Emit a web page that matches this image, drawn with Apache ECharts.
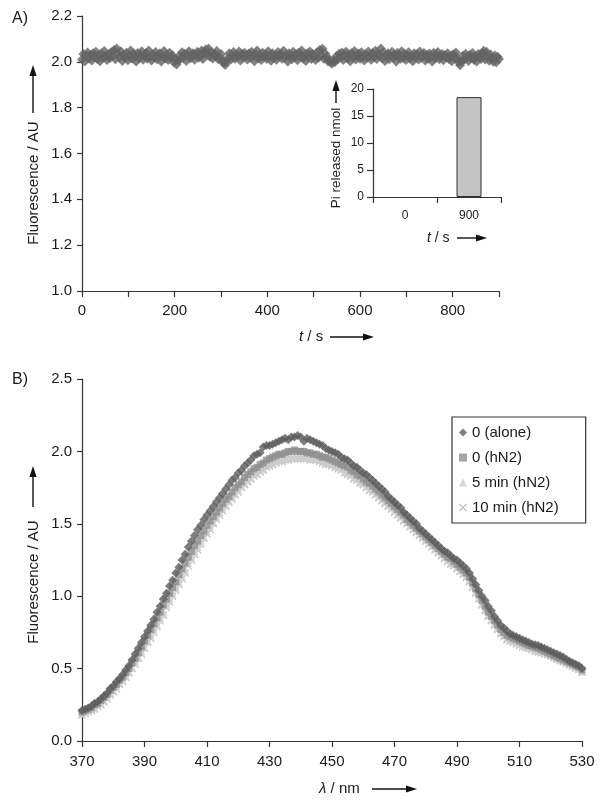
<!DOCTYPE html>
<html><head><meta charset="utf-8">
<script src="https://cdn.jsdelivr.net/npm/echarts@6/dist/echarts.min.js"></script>
<style>html,body{margin:0;padding:0;background:#fff}#c{width:606px;height:805px}</style>
</head><body><div id="c"></div>
<script>
// ---------- Panel A: fluorescence vs time (sampled every 3 s) ----------
const timeStartA = 0;
const timeStepA = 3;
const fluorA = [
2.010,2.034,2.002,2.027,2.041,2.015,2.030,2.006,2.038,2.021,
2.044,2.012,2.029,2.003,2.036,2.019,2.047,2.024,2.008,2.033,
2.016,2.042,2.027,2.052,2.011,2.058,2.035,2.021,2.045,2.004,
2.031,2.018,2.040,2.007,2.026,2.049,2.013,2.036,2.022,2.002,
2.039,2.016,2.030,2.046,2.009,2.025,2.037,2.014,2.050,2.021,
2.006,2.033,2.019,2.043,2.011,2.028,2.038,2.001,2.024,2.047,
2.015,2.032,2.008,2.040,2.020,2.029,1.998,2.012,1.988,2.005,
2.027,2.013,2.042,2.019,2.035,2.004,2.030,2.046,2.016,2.023,
2.038,2.009,2.031,2.044,2.018,2.027,2.050,2.012,2.039,2.054,
2.033,2.058,2.022,2.041,2.015,2.036,2.026,2.047,2.011,2.020,
2.034,2.004,1.994,1.986,2.001,2.017,2.038,2.009,2.028,2.043,
2.013,2.031,2.022,2.045,2.006,2.035,2.019,2.040,2.027,2.010,
2.036,2.018,2.044,2.025,2.003,2.032,2.049,2.015,2.029,2.008,
2.040,2.021,2.033,2.012,2.046,2.027,2.005,2.038,2.017,2.030,
2.009,2.043,2.024,2.035,2.014,2.048,2.020,2.031,2.002,2.037,
2.026,2.011,2.044,2.019,2.033,2.007,2.040,2.023,2.050,2.015,
2.030,2.004,2.037,2.021,2.045,2.012,2.034,2.026,2.008,2.041,
2.018,2.052,2.029,2.057,2.013,2.036,2.022,2.003,2.010,1.996,
1.993,2.006,1.999,2.024,2.012,2.035,2.019,2.041,2.008,2.028,
2.044,2.015,2.032,2.003,2.038,2.021,2.047,2.010,2.027,2.036,
2.014,2.042,2.023,2.006,2.033,2.018,2.045,2.026,2.009,2.039,
2.020,2.048,2.012,2.035,2.027,2.058,2.016,2.041,2.004,2.030,
2.037,2.011,2.026,2.044,2.019,2.032,2.002,2.040,2.023,2.013,
2.046,2.017,2.034,2.008,2.029,2.042,2.015,2.025,2.003,2.038,
2.021,2.033,2.010,2.045,2.018,2.027,2.039,2.006,2.031,2.014,
2.036,2.022,2.001,2.040,2.016,2.028,2.043,2.011,2.024,2.034,
2.007,2.030,2.019,2.037,2.012,2.025,2.003,2.033,2.018,2.041,
2.014,1.998,1.985,2.002,2.027,2.009,2.035,2.020,2.004,2.031,
2.016,2.039,2.008,2.026,2.001,2.034,2.021,2.012,2.037,2.048,
2.010,2.044,2.025,2.005,2.032,2.017,2.000,2.028,1.998,2.022,
2.012
];
// ---------- Inset: Pi released ----------
const insetCategories = ['0', '900'];
const piReleased = [0, 18.5];
// ---------- Panel B: emission spectra (1 nm steps) ----------
const lambdaStart = 370;
const lambdaStep = 1;
const seriesNamesB = ['0 (alone)', '0 (hN2)', '5 min (hN2)', '10 min (hN2)'];
const flAlone = [
0.21,0.22,0.23,0.24,0.26,0.27,0.29,0.31,0.33,0.36,
0.38,0.41,0.43,0.46,0.49,0.52,0.56,0.60,0.64,0.68,
0.72,0.76,0.80,0.84,0.89,0.93,0.98,1.02,1.07,1.11,
1.16,1.20,1.25,1.29,1.34,1.38,1.42,1.46,1.49,1.53,
1.56,1.59,1.62,1.65,1.68,1.71,1.74,1.77,1.80,1.82,
1.85,1.87,1.90,1.92,1.94,1.97,1.98,1.99,2.03,2.04,
2.04,2.05,2.06,2.07,2.08,2.09,2.08,2.10,2.10,2.11,
2.10,2.07,2.09,2.08,2.07,2.06,2.05,2.04,2.02,2.01,
2.00,1.99,1.98,1.96,1.95,1.94,1.92,1.90,1.89,1.87,
1.85,1.84,1.82,1.80,1.78,1.76,1.74,1.72,1.69,1.67,
1.65,1.63,1.61,1.58,1.56,1.54,1.52,1.50,1.47,1.45,
1.43,1.41,1.39,1.37,1.35,1.33,1.31,1.30,1.28,1.26,
1.25,1.23,1.21,1.19,1.16,1.12,1.08,1.04,1.00,0.97,
0.93,0.90,0.86,0.83,0.80,0.78,0.76,0.74,0.73,0.72,
0.71,0.70,0.69,0.68,0.67,0.665,0.66,0.65,0.64,0.63,
0.62,0.61,0.60,0.59,0.58,0.565,0.55,0.54,0.53,0.52,
0.50
];
const flHN2 = [
0.20,0.21,0.22,0.23,0.25,0.26,0.28,0.30,0.32,0.35,
0.37,0.39,0.42,0.44,0.47,0.50,0.54,0.57,0.61,0.65,
0.69,0.73,0.77,0.81,0.85,0.89,0.94,0.98,1.02,1.06,
1.10,1.15,1.19,1.23,1.27,1.31,1.35,1.38,1.42,1.45,
1.49,1.52,1.55,1.58,1.61,1.64,1.67,1.69,1.72,1.75,
1.77,1.79,1.82,1.84,1.86,1.88,1.89,1.91,1.92,1.94,
1.95,1.96,1.97,1.98,1.98,1.99,2.00,2.00,2.01,2.00,
2.00,2.00,1.99,1.99,1.98,1.98,1.97,1.96,1.96,1.95,
1.94,1.93,1.92,1.91,1.90,1.89,1.87,1.86,1.84,1.83,
1.81,1.79,1.78,1.76,1.74,1.72,1.70,1.68,1.66,1.64,
1.62,1.60,1.58,1.56,1.53,1.51,1.49,1.47,1.45,1.43,
1.41,1.39,1.37,1.35,1.33,1.31,1.29,1.27,1.26,1.24,
1.22,1.20,1.18,1.16,1.13,1.09,1.05,1.01,0.97,0.93,
0.89,0.86,0.83,0.80,0.77,0.75,0.73,0.72,0.71,0.70,
0.69,0.68,0.67,0.66,0.655,0.645,0.64,0.63,0.62,0.61,
0.60,0.59,0.58,0.57,0.56,0.55,0.54,0.53,0.52,0.51,
0.49
];
const fl5min = [
0.19,0.20,0.21,0.22,0.23,0.25,0.26,0.28,0.31,0.33,
0.35,0.38,0.40,0.43,0.45,0.48,0.51,0.55,0.58,0.62,
0.65,0.69,0.73,0.77,0.81,0.85,0.89,0.94,0.98,1.02,
1.06,1.10,1.14,1.18,1.23,1.27,1.31,1.34,1.38,1.41,
1.45,1.48,1.51,1.55,1.58,1.61,1.63,1.66,1.69,1.71,
1.74,1.76,1.78,1.80,1.82,1.84,1.85,1.87,1.88,1.90,
1.91,1.92,1.93,1.94,1.94,1.95,1.95,1.96,1.96,1.96,
1.96,1.96,1.96,1.95,1.95,1.95,1.94,1.93,1.92,1.92,
1.91,1.90,1.89,1.88,1.86,1.85,1.84,1.82,1.81,1.79,
1.78,1.76,1.74,1.73,1.71,1.69,1.67,1.65,1.63,1.61,
1.59,1.57,1.55,1.53,1.51,1.49,1.47,1.45,1.43,1.41,
1.39,1.37,1.35,1.33,1.31,1.29,1.27,1.25,1.23,1.22,
1.20,1.18,1.16,1.14,1.11,1.07,1.03,0.99,0.95,0.91,
0.87,0.84,0.81,0.78,0.75,0.73,0.71,0.70,0.69,0.68,
0.67,0.66,0.65,0.645,0.64,0.63,0.62,0.615,0.61,0.60,
0.59,0.58,0.57,0.56,0.55,0.54,0.53,0.52,0.51,0.50,
0.48
];
const fl10min = [
0.18,0.19,0.20,0.21,0.22,0.24,0.25,0.27,0.29,0.32,
0.34,0.36,0.39,0.41,0.44,0.47,0.50,0.53,0.57,0.60,
0.64,0.68,0.71,0.75,0.79,0.83,0.87,0.92,0.96,1.00,
1.04,1.08,1.12,1.16,1.21,1.25,1.29,1.32,1.36,1.40,
1.43,1.46,1.50,1.53,1.56,1.59,1.62,1.65,1.67,1.70,
1.72,1.75,1.77,1.79,1.81,1.83,1.84,1.86,1.87,1.89,
1.90,1.91,1.92,1.93,1.93,1.94,1.94,1.95,1.95,1.95,
1.95,1.95,1.95,1.94,1.94,1.94,1.93,1.92,1.91,1.91,
1.90,1.89,1.88,1.87,1.85,1.84,1.83,1.81,1.80,1.78,
1.77,1.75,1.73,1.72,1.70,1.68,1.66,1.64,1.62,1.60,
1.58,1.56,1.54,1.52,1.50,1.48,1.46,1.44,1.42,1.40,
1.38,1.36,1.34,1.32,1.30,1.28,1.26,1.24,1.22,1.21,
1.19,1.17,1.15,1.13,1.10,1.06,1.02,0.98,0.94,0.90,
0.86,0.83,0.80,0.77,0.74,0.72,0.70,0.69,0.68,0.67,
0.66,0.65,0.645,0.64,0.63,0.62,0.615,0.61,0.60,0.595,
0.585,0.575,0.565,0.555,0.545,0.535,0.525,0.515,0.505,0.495,
0.475
];

// ---------- styling ----------
const FONT = '"Liberation Sans", Arial, sans-serif';
const AX = '#333';
const TXT = '#1a1a1a';
const crossPath = 'path://M0,1.2L1.2,0L5,3.8L8.8,0L10,1.2L6.2,5L10,8.8L8.8,10L5,6.2L1.2,10L0,8.8L3.8,5Z';

function pairs(values, start, step) { return values.map((v, i) => [start + i * step, v]); }

function axisBase(fontSize, tickLen, margin) {
  return {
    axisLine: { show: true, lineStyle: { color: AX, width: 1.2 } },
    axisTick: { show: true, length: tickLen, lineStyle: { color: AX, width: 1.2 } },
    axisLabel: { color: TXT, fontSize: fontSize, fontFamily: FONT, margin: margin },
    splitLine: { show: false }
  };
}
function arrowRight(x1, x2, y) {
  return [
    { type: 'line', shape: { x1: x1, y1: y, x2: x2 - 8, y2: y }, style: { stroke: '#111', lineWidth: 1.4 } },
    { type: 'polygon', shape: { points: [[x2, y], [x2 - 11, y - 3.6], [x2 - 11, y + 3.6]] }, style: { fill: '#111' } }
  ];
}
function arrowUp(x, y1, y2) {
  return [
    { type: 'line', shape: { x1: x, y1: y1, x2: x, y2: y2 + 8 }, style: { stroke: '#111', lineWidth: 1.4 } },
    { type: 'polygon', shape: { points: [[x, y2], [x - 3.6, y2 + 11], [x + 3.6, y2 + 11]] }, style: { fill: '#111' } }
  ];
}
function label(text, x, y, size, opts) {
  return Object.assign({
    type: 'text', x: x, y: y,
    style: { text: text, fill: TXT, font: size + 'px ' + FONT, textAlign: 'center', textVerticalAlign: 'middle' }
  }, opts || {});
}
function italicLabel(it, rest, x, y, size) {
  return {
    type: 'text', x: x, y: y,
    style: {
      text: '{i|' + it + '}{r|' + rest + '}', textAlign: 'left', textVerticalAlign: 'middle',
      rich: {
        i: { fontStyle: 'italic', fontSize: size, fontFamily: FONT, fill: TXT },
        r: { fontSize: size, fontFamily: FONT, fill: TXT }
      }
    }
  };
}

const chart = echarts.init(document.getElementById('c'), null, { renderer: 'canvas' });

const option = {
  animation: false,
  backgroundColor: '#fff',
  textStyle: { fontFamily: FONT },
  grid: [
    { left: 82, top: 16, width: 417, height: 275 },
    { left: 373, top: 89, width: 128, height: 108 },
    { left: 82, top: 379, width: 500, height: 362 }
  ],
  xAxis: [
    Object.assign(axisBase(15, 6, 12), {
      type: 'value', gridIndex: 0, min: 0, max: 900, interval: 100,
      axisLabel: { color: TXT, fontSize: 15, fontFamily: FONT, margin: 12,
        formatter: v => (v % 200 === 0 ? String(v) : '') }
    }),
    Object.assign(axisBase(12, 6, 13), {
      type: 'category', gridIndex: 1, data: insetCategories, boundaryGap: true
    }),
    Object.assign(axisBase(15, 6, 13), {
      type: 'value', gridIndex: 2, min: 370, max: 530, interval: 20
    })
  ],
  yAxis: [
    Object.assign(axisBase(15, 5, 10), {
      type: 'value', gridIndex: 0, min: 1.0, max: 2.2, interval: 0.2,
      axisLabel: { color: TXT, fontSize: 15, fontFamily: FONT, margin: 10, formatter: v => v.toFixed(1) }
    }),
    Object.assign(axisBase(12, 6, 9), {
      type: 'value', gridIndex: 1, min: 0, max: 20, interval: 5
    }),
    Object.assign(axisBase(15, 5, 10), {
      type: 'value', gridIndex: 2, min: 0, max: 2.5, interval: 0.5,
      axisLabel: { color: TXT, fontSize: 15, fontFamily: FONT, margin: 10, formatter: v => v.toFixed(1) }
    })
  ],
  legend: {
    data: seriesNamesB,
    orient: 'vertical',
    left: 452, top: 417,
    padding: [8, 27, 8, 7],
    itemGap: 10,
    itemWidth: 8, itemHeight: 8,
    borderColor: '#333', borderWidth: 1.2, borderRadius: 0,
    backgroundColor: '#fff',
    textStyle: { color: TXT, fontSize: 15, fontFamily: FONT }
  },
  series: [
    {
      name: 'A', type: 'scatter', xAxisIndex: 0, yAxisIndex: 0,
      data: pairs(fluorA, timeStartA, timeStepA),
      symbol: 'diamond', symbolSize: 10,
      itemStyle: { color: '#636363' }
    },
    {
      name: 'Pi released', type: 'bar', xAxisIndex: 1, yAxisIndex: 1,
      data: piReleased.map(v => (v === 0 ? { value: v, itemStyle: { borderWidth: 0 } } : v)),
      barWidth: 25,
      itemStyle: { color: '#c4c4c4', borderColor: '#333', borderWidth: 1 }
    },
    {
      name: seriesNamesB[3], type: 'scatter', xAxisIndex: 2, yAxisIndex: 2, z: 3,
      data: pairs(fl10min, lambdaStart, lambdaStep),
      symbol: crossPath, symbolSize: 8,
      itemStyle: { color: '#b5b5b5' }
    },
    {
      name: seriesNamesB[2], type: 'scatter', xAxisIndex: 2, yAxisIndex: 2, z: 4,
      data: pairs(fl5min, lambdaStart, lambdaStep),
      symbol: 'triangle', symbolSize: 8,
      itemStyle: { color: '#cdcdcd' }
    },
    {
      name: seriesNamesB[1], type: 'scatter', xAxisIndex: 2, yAxisIndex: 2, z: 5,
      data: pairs(flHN2, lambdaStart, lambdaStep),
      symbol: 'rect', symbolSize: 7,
      itemStyle: { color: '#8e8e8e' }
    },
    {
      name: seriesNamesB[0], type: 'scatter', xAxisIndex: 2, yAxisIndex: 2, z: 6,
      data: pairs(flAlone, lambdaStart, lambdaStep),
      symbol: 'diamond', symbolSize: 9,
      itemStyle: { color: '#5c5c5c' }
    }
  ],
  graphic: [
    label('A)', 20, 19, 16),
    label('B)', 20, 380, 16),
    label('Fluorescence / AU', 34, 183, 15, { rotation: Math.PI / 2 }),
    label('Fluorescence / AU', 34, 582, 15, { rotation: Math.PI / 2 }),
    label('Pi released nmol', 336, 158, 13.5, { rotation: Math.PI / 2 }),
    italicLabel('t', ' / s', 299, 337, 15),
    italicLabel('t', ' / s', 427, 238, 14),
    italicLabel('λ', ' / nm', 319, 789, 15)
  ].concat(
    arrowUp(33, 113, 65),
    arrowUp(33, 507, 466),
    arrowUp(336, 103, 80),
    arrowRight(330, 374, 337),
    arrowRight(457, 487, 238),
    arrowRight(372, 417, 789)
  )
};
chart.setOption(option);
</script></body></html>
